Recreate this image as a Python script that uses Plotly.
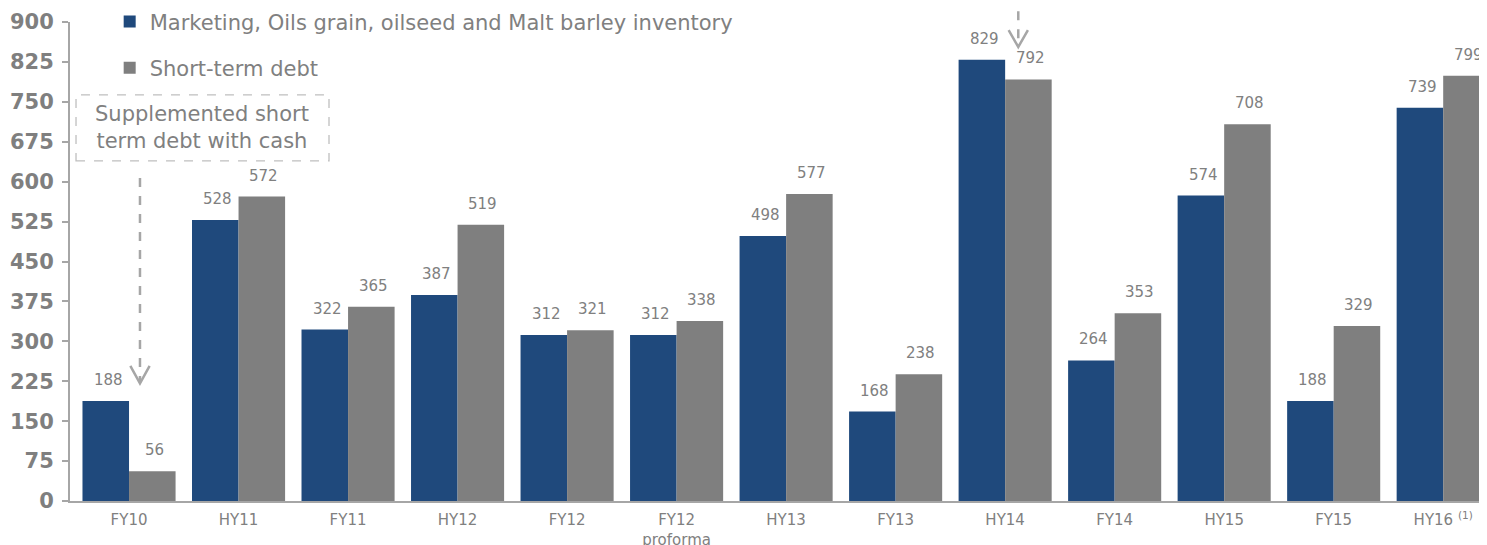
import plotly.graph_objects as go

categories = ["FY10", "HY11", "FY11", "HY12", "FY12", "FY12<br>proforma", "HY13",
              "FY13", "HY14", "FY14", "HY15", "FY15", "HY16 <sup>(1)</sup>"]
inventory = [188, 528, 322, 387, 312, 312, 498, 168, 829, 264, 574, 188, 739]
short_debt = [56, 572, 365, 519, 321, 338, 577, 238, 792, 353, 708, 329, 799]
y_ticks = [0, 75, 150, 225, 300, 375, 450, 525, 600, 675, 750, 825, 900]

BLUE = "#1F497C"
GRAY = "#7F7F7F"
TXT = "#808080"
FONT = "DejaVu Sans"

idx = list(range(len(categories)))

fig = go.Figure()
fig.add_trace(go.Bar(x=idx, y=inventory, name="Marketing, Oils grain, oilseed and Malt barley inventory",
                     marker=dict(color=BLUE, line=dict(width=0)), legendgroup="a"))
fig.add_trace(go.Bar(x=idx, y=short_debt, name="Short-term debt",
                     marker=dict(color=GRAY, line=dict(width=0)), legendgroup="b"))

annotations = []
for i, v in zip(idx, inventory):
    annotations.append(dict(x=i, y=v, xref="x", yref="y", text=str(v), showarrow=False,
                            xshift=-21, yshift=21, yanchor="middle",
                            font=dict(family=FONT, size=15, color=TXT)))
for i, v in zip(idx, short_debt):
    annotations.append(dict(x=i, y=v, xref="x", yref="y", text=str(v), showarrow=False,
                            xshift=25, yshift=21, yanchor="middle",
                            font=dict(family=FONT, size=15, color=TXT)))

annotations.append(dict(x=0.67, y=701, xref="x", yref="y",
                        text="Supplemented short<br>term debt with cash", showarrow=False,
                        font=dict(family=FONT, size=21, color=TXT), align="center"))

ARROW = "#A6A6A6"
shapes = [
    dict(type="rect", xref="x", yref="y", x0=-0.484, x1=1.826, y0=639, y1=763,
         line=dict(color="#BFBFBF", width=1.3, dash="dash"), fillcolor="rgba(0,0,0,0)"),
    dict(type="line", xref="x", yref="y", x0=0.10, x1=0.10, y0=607, y1=224,
         line=dict(color=ARROW, width=2.5, dash="dash")),
    dict(type="path", xref="x", yref="y",
         path="M 0.012 254 L 0.10 221 L 0.188 254",
         line=dict(color=ARROW, width=2.5)),
    dict(type="line", xref="x", yref="paper", x0=8.12, x1=8.12, y0=1.06, y1=0.955,
         line=dict(color=ARROW, width=2.5, dash="dash")),
    dict(type="path", xref="x", yref="paper",
         path="M 8.032 0.983 L 8.12 0.948 L 8.208 0.983",
         line=dict(color=ARROW, width=2.5)),
]

fig.update_layout(
    width=1479, height=537,
    margin=dict(l=62, r=0, t=14, b=44, autoexpand=False),
    plot_bgcolor="white", paper_bgcolor="white",
    barmode="group", bargap=0.15, bargroupgap=0,
    font=dict(family=FONT, color=TXT),
    showlegend=True,
    legend=dict(x=0.028, y=1.043, xanchor="left", yanchor="top",
                font=dict(family=FONT, size=21, color=TXT),
                tracegroupgap=16, bgcolor="rgba(0,0,0,0)", traceorder="grouped"),
    annotations=annotations,
    shapes=shapes,
)
fig.update_xaxes(range=[-0.539, 12.40], tickmode="array", tickvals=idx, ticktext=categories,
                 showline=True, linecolor="#A6A6A6", linewidth=2, ticks="",
                 ticklabelstandoff=4, automargin=False,
                 tickfont=dict(family=FONT, size=15, color=TXT), showgrid=False, zeroline=False)
fig.update_yaxes(range=[0, 900], tickmode="array", tickvals=y_ticks,
                 showline=True, linecolor="#A6A6A6", linewidth=2, ticks="outside",
                 ticklen=6, tickcolor="#A6A6A6", tickwidth=2, ticklabelstandoff=4,
                 automargin=False,
                 tickfont=dict(family=FONT, size=21, color=GRAY, weight="bold"),
                 showgrid=False, zeroline=False)

fig.write_html("out.html")
